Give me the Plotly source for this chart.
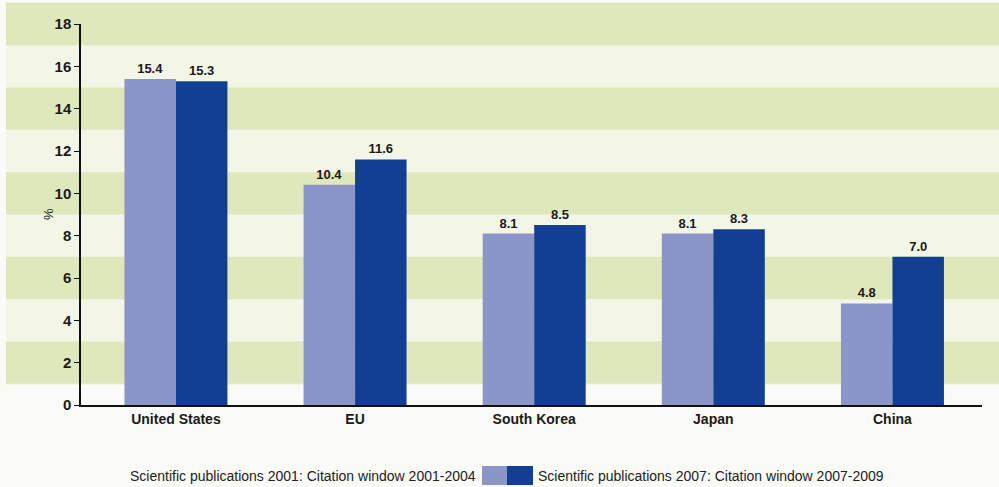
import plotly.graph_objects as go

categories = ["United States", "EU", "South Korea", "Japan", "China"]
pubs_2001 = [15.4, 10.4, 8.1, 8.1, 4.8]
pubs_2007 = [15.3, 11.6, 8.5, 8.3, 7.0]
series_names = ["Scientific publications 2001: Citation window 2001-2004",
                "Scientific publications 2007: Citation window 2007-2009"]
y_ticks = [0, 2, 4, 6, 8, 10, 12, 14, 16, 18]

LIGHT = "#8C95C8"
DARK = "#133F93"
GREEN = "#DFE8BD"
PALE = "#F3F6E7"

W, H = 999, 487
ML, MR, MT, MB = 81, 17, 24, 82
PW, PH = W - ML - MR, H - MT - MB
YMAX = 18

def px_x(p):
    return (p - ML) / PW

def px_y(p):
    return (H - MB - p) / PH

fig = go.Figure()
for vals, name, col in [(pubs_2001, series_names[0], LIGHT), (pubs_2007, series_names[1], DARK)]:
    fig.add_bar(x=categories, y=vals, name=name, marker_color=col,
                marker_line_width=0, texttemplate="%{y:.1f}", textposition="outside",
                cliponaxis=False,
                textfont=dict(family="Liberation Sans", size=13, color="#1a1a1a", weight="bold"))

shapes = []
shapes.append(dict(type="rect", xref="paper", yref="paper", x0=px_x(6), x1=px_x(999),
                   y0=0.94 / YMAX, y1=px_y(2), fillcolor=PALE, line_width=0, layer="below"))
for lo in [1, 5, 9, 13, 17]:
    shapes.append(dict(type="rect", xref="paper", yref="paper", x0=px_x(6), x1=px_x(999),
                       y0=lo / YMAX, y1=(lo + 2) / YMAX, fillcolor=GREEN, line_width=0,
                       layer="below"))
shapes.append(dict(type="rect", xref="paper", yref="paper", x0=px_x(482), x1=px_x(507),
                   y0=px_y(485), y1=px_y(466), fillcolor=LIGHT, line_width=0))
shapes.append(dict(type="rect", xref="paper", yref="paper", x0=px_x(507), x1=px_x(533),
                   y0=px_y(485), y1=px_y(466), fillcolor=DARK, line_width=0))

annotations = [
    dict(text="%", xref="paper", yref="paper", x=px_x(39), y=0.5, textangle=-90,
         showarrow=False, font=dict(family="Liberation Sans", size=13, color="#1a1a1a")),
    dict(text=series_names[0], xref="paper", yref="paper", x=px_x(478), y=px_y(476),
         xanchor="right", yanchor="middle", showarrow=False,
         font=dict(family="Liberation Sans Narrow, Arial Narrow, Liberation Sans", size=14, color="#222222")),
    dict(text=series_names[1], xref="paper", yref="paper", x=px_x(536), y=px_y(476),
         xanchor="left", yanchor="middle", showarrow=False,
         font=dict(family="Liberation Sans Narrow, Arial Narrow, Liberation Sans", size=14, color="#222222")),
]

fig.update_layout(
    width=W, height=H,
    margin=dict(l=ML, r=MR, t=MT, b=MB),
    paper_bgcolor="#FAFBF6", plot_bgcolor="rgba(0,0,0,0)",
    barmode="group", bargap=0.425, bargroupgap=0,
    showlegend=False,
    shapes=shapes, annotations=annotations,
    font=dict(family="Liberation Sans", color="#1a1a1a"),
    xaxis=dict(range=[-0.53, 4.5], showgrid=False, zeroline=False, showline=True,
               linecolor="#111111", linewidth=1.5, ticks="",
               tickfont=dict(family="Liberation Sans", size=14, weight="bold", color="#1a1a1a")),
    yaxis=dict(range=[0, YMAX], tickvals=y_ticks, showgrid=False, zeroline=False,
               showline=True, linecolor="#111111", linewidth=1.5, ticks="outside",
               ticklen=5, tickwidth=1.2, tickcolor="#111111",
               tickfont=dict(family="Liberation Sans", size=15, weight="bold", color="#1a1a1a")),
)

fig.write_html("out.html", config={"displayModeBar": False},
               post_script="document.body.style.margin='0';document.body.style.overflow='hidden';")
